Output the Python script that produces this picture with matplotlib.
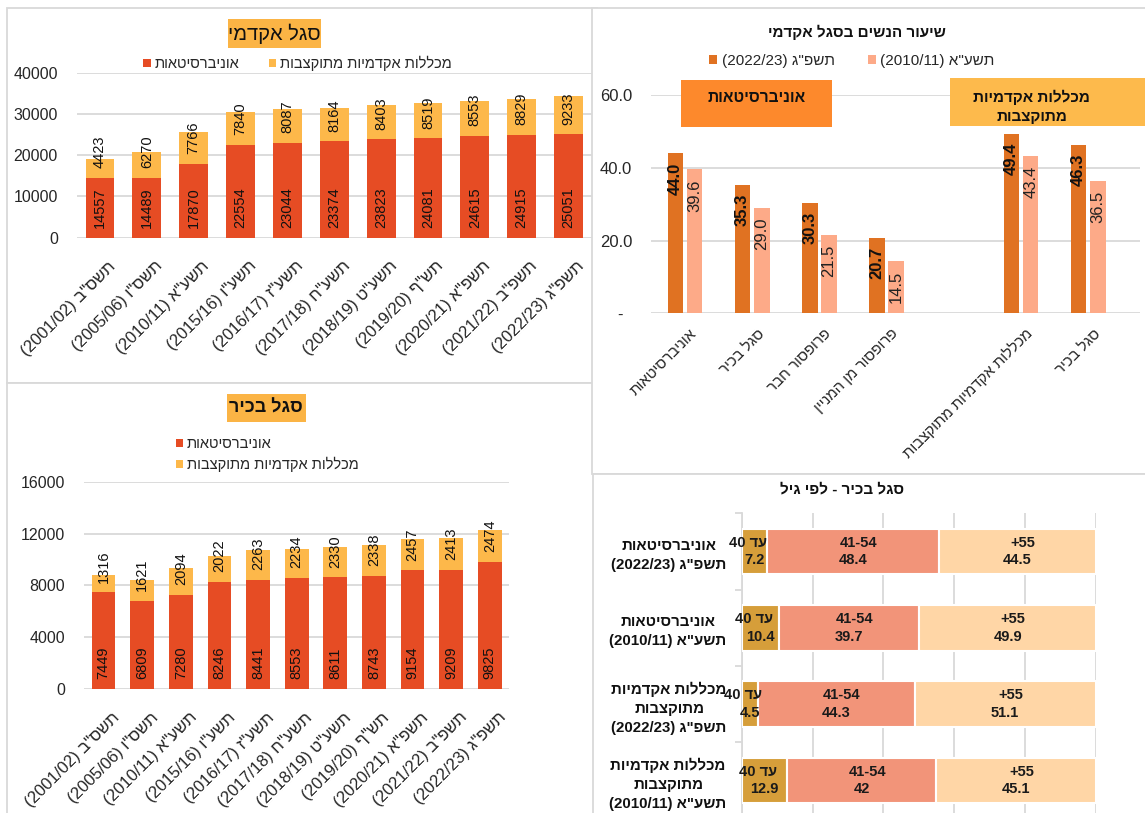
import re
import numpy as np
import matplotlib
matplotlib.use('Agg')
import matplotlib.pyplot as plt
from matplotlib.patches import Rectangle

# ---------------- data ----------------
years = ['תשס"ב (2001/02)', 'תשס"ו (2005/06)', 'תשע"א (2010/11)', 'תשע"ו (2015/16)',
         'תשע"ז (2016/17)', 'תשע"ח (2017/18)', 'תשע"ט (2018/19)', 'תש"ף (2019/20)',
         'תשפ"א (2020/21)', 'תשפ"ב (2021/22)', 'תשפ"ג (2022/23)']
series_names = ['אוניברסיטאות', 'מכללות אקדמיות מתוקצבות']

acad_univ = [14557, 14489, 17870, 22554, 23044, 23374, 23823, 24081, 24615, 24915, 25051]
acad_coll = [4423, 6270, 7766, 7840, 8087, 8164, 8403, 8519, 8553, 8829, 9233]

senior_univ = [7449, 6809, 7280, 8246, 8441, 8553, 8611, 8743, 9154, 9209, 9825]
senior_coll = [1316, 1621, 2094, 2022, 2263, 2234, 2330, 2338, 2457, 2413, 2474]

women_cats = ['אוניברסיטאות', 'סגל בכיר', 'פרופסור חבר', 'פרופסור מן המניין', '',
              'מכללות אקדמיות מתוקצבות', 'סגל בכיר']
women_series = ['תשפ"ג (2022/23)', 'תשע"א (2010/11)']
women_2023 = [44.0, 35.3, 30.3, 20.7, None, 49.4, 46.3]
women_2011 = [39.6, 29.0, 21.5, 14.5, None, 43.4, 36.5]

age_rows = ['אוניברסיטאות\nתשפ"ג (2022/23)', 'אוניברסיטאות\nתשע"א (2010/11)',
            'מכללות אקדמיות\nמתוקצבות\nתשפ"ג (2022/23)', 'מכללות אקדמיות\nמתוקצבות\nתשע"א (2010/11)']
age_groups = ['עד 40', '41-54', '55+']
age_upto40 = [7.2, 10.4, 4.5, 12.9]
age_41_54 = [48.4, 39.7, 44.3, 42]
age_55plus = [44.5, 49.9, 51.1, 45.1]

# ---------------- helpers ----------------
_LTR = re.compile(r'[0-9A-Za-z]+(?:[./:,\-][0-9A-Za-z]+)*')
_MIRROR = {'(': ')', ')': '(', '[': ']', ']': '['}


def vis(s):
    """Very small visual reordering for RTL (Hebrew) strings."""
    out = []
    for line in s.split('\n'):
        units, pos = [], 0
        for m in _LTR.finditer(line):
            units.extend(_MIRROR.get(c, c) for c in line[pos:m.start()])
            units.append(m.group())
            pos = m.end()
        units.extend(_MIRROR.get(c, c) for c in line[pos:])
        out.append(''.join(reversed(units)))
    return '\n'.join(out)


W, H = 1145, 813
plt.rcParams['font.family'] = ['Liberation Sans', 'DejaVu Sans']
TXT = '#262626'
GRID = '#D9D9D9'
RED = '#E64C24'
YEL = '#FDB84A'
TITLE_BG = '#FBB445'
DARK = '#E07222'
LIGHT = '#FDAA88'
BOX1 = '#FD892C'
BOX2 = '#FDBA4C'
AGE_COLS = ['#D69E3A', '#F29479', '#FFD6A6']

fig = plt.figure(figsize=(W / 100, H / 100), dpi=100)


def fx(x):
    return x / W


def fy(y):
    return 1 - y / H


def rect(x0, y0, x1, y1):
    return [fx(x0), fy(y1), (x1 - x0) / W, (y1 - y0) / H]


def frame(x0, y0, x1, y1, fc='white', ec=GRID, lw=1.3, z=-5):
    fig.add_artist(Rectangle((fx(x0), fy(y1)), (x1 - x0) / W, (y1 - y0) / H,
                             transform=fig.transFigure, facecolor=fc, edgecolor=ec,
                             lw=lw, zorder=z))


def cat_labels(ax, labels, size, dx, dy):
    """Rotated category labels anchored at the end of the baseline under each tick."""
    ax.set_xticks(np.arange(len(labels)))
    ax.set_xticklabels([])
    for i, lab in enumerate(labels):
        if not lab:
            continue
        ax.annotate(vis(lab), xy=(i, 0), xycoords=('data', 'axes fraction'),
                    xytext=(dx, dy), textcoords='offset points', rotation=45,
                    ha='right', va='baseline', rotation_mode='anchor',
                    fontsize=size, color=TXT, annotation_clip=False)


# panel frames
frame(7, 8, 597, 383)
frame(7, 383, 597, 840)
frame(592, 8, 1170, 474)
frame(593, 474, 1170, 840)


def stacked_panel(axrect, xlim_right_px, ymax, yticks, vals_a, vals_b, title, title_box, title_bold,
                  title_size, legend_kw, ypad):
    x0px, y0px, x1px, y1px = axrect
    ax = fig.add_axes(rect(*axrect))
    ax.set_facecolor('none')
    n = len(years)
    x = np.arange(n)
    slot = (x1px - x0px) / n
    b1 = ax.bar(x, vals_a, width=0.615, color=RED, label=vis(series_names[0]), zorder=3)
    b2 = ax.bar(x, vals_b, bottom=vals_a, width=0.615, color=YEL, label=vis(series_names[1]), zorder=3)
    ax.set_xlim(-0.5, -0.5 + (xlim_right_px - x0px) / slot)
    ax.set_ylim(0, ymax)
    ax.set_yticks(yticks)
    ax.grid(axis='y', color=GRID, lw=1.3, zorder=0)
    ax.set_axisbelow(True)
    for s in ax.spines.values():
        s.set_visible(False)
    ax.tick_params(axis='y', length=0, pad=ypad, labelsize=11.5, labelcolor=TXT)
    ax.tick_params(axis='x', length=0)
    cat_labels(ax, years, 12, 12, -21)
    for i in range(n):
        ax.annotate(str(vals_a[i]), xy=(i, 0), xytext=(0, 7), textcoords='offset points',
                    rotation=90, ha='center', va='bottom', fontsize=10.5, color='#111111', zorder=5)
        ax.annotate(str(vals_b[i]), xy=(i, vals_a[i]), xytext=(0, 7), textcoords='offset points',
                    rotation=90, ha='center', va='bottom', fontsize=10.5, color='#111111', zorder=5)
    tx0, ty0, tx1, ty1 = title_box
    frame(tx0, ty0, tx1, ty1, fc=TITLE_BG, ec='none', lw=0, z=2)
    fig.text(fx((tx0 + tx1) / 2), fy((ty0 + ty1) / 2), vis(title), ha='center', va='center',
             fontsize=title_size, fontweight='bold' if title_bold else 'normal',
             color='#111111', zorder=3)
    ax.legend(handles=[b1, b2], bbox_transform=fig.transFigure, frameon=False, fontsize=10.5,
              handlelength=0.5, handleheight=0.5, handletextpad=0.25, borderpad=0,
              borderaxespad=0, labelcolor=TXT, **legend_kw)
    return ax


# ---- top-left: academic staff ----
stacked_panel((76.5, 72.7, 592, 237.7), 592, 40000, [0, 10000, 20000, 30000, 40000],
              acad_univ, acad_coll, 'סגל אקדמי', (227.7, 19, 321, 48.3), False, 14.5,
              dict(loc='center', bbox_to_anchor=(fx(297.5), fy(63.5)), ncol=2, columnspacing=2.05),
              13.5)

# ---- bottom-left: senior staff ----
stacked_panel((84.2, 481.7, 509.1, 689), 509.1, 16000, [0, 4000, 8000, 12000, 16000],
              senior_univ, senior_coll, 'סגל בכיר', (226.7, 394, 306, 422.3), True, 13,
              dict(loc='upper left', bbox_to_anchor=(fx(176), fy(437)), ncol=1, labelspacing=0.4),
              13.8)

# ---- top-right: share of women ----
ax3 = fig.add_axes(rect(651.4, 95.3, 1140, 313.3))
ax3.set_facecolor('none')
slot3 = 67.2
xc = np.arange(len(women_cats))
idx = [i for i, v in enumerate(women_2023) if v is not None]
bw, off = 0.232, 0.144
bd = ax3.bar(xc[idx] - off, [women_2023[i] for i in idx], width=bw, color=DARK,
             label=vis(women_series[0]), zorder=3)
bl = ax3.bar(xc[idx] + off, [women_2011[i] for i in idx], width=bw, color=LIGHT,
             label=vis(women_series[1]), zorder=3)
for i in idx:
    ax3.annotate(f'{women_2023[i]:.1f}', xy=(i - off, women_2023[i]), xytext=(0, -6.5),
                 textcoords='offset points', rotation=90, ha='center', va='top',
                 fontsize=12, fontweight='bold', color='#111111', zorder=5)
    ax3.annotate(f'{women_2011[i]:.1f}', xy=(i + off, women_2011[i]), xytext=(0, -7),
                 textcoords='offset points', rotation=90, ha='center', va='top',
                 fontsize=12, color='#222222', zorder=5)
ax3.set_xlim(-0.5, -0.5 + (1140 - 651.4) / slot3)
ax3.set_ylim(0, 60)
ax3.set_yticks([0, 20, 40, 60])
ax3.set_yticklabels(['-  ', '20.0', '40.0', '60.0'])
ax3.grid(axis='y', color=GRID, lw=1.3, zorder=0)
ax3.set_axisbelow(True)
for s in ax3.spines.values():
    s.set_visible(False)
ax3.tick_params(axis='y', length=0, pad=13.7, labelsize=12, labelcolor=TXT)
ax3.tick_params(axis='x', length=0)
cat_labels(ax3, women_cats, 10.8, 9, -15)
fig.text(fx(856.7), fy(32.3), vis('שיעור הנשים בסגל אקדמי'), ha='center', va='center',
         fontsize=11, fontweight='bold', color='#111111')
ax3.legend(handles=[bd, bl], loc='center', bbox_to_anchor=(fx(852), fy(61)),
           bbox_transform=fig.transFigure, ncol=2, frameon=False, fontsize=11,
           handlelength=0.5, handleheight=0.5, handletextpad=0.3, columnspacing=2.2,
           borderpad=0, borderaxespad=0, labelcolor=TXT)
# group boxes
frame(680.7, 80, 832.3, 127.3, fc=BOX1, ec='none', lw=0, z=2)
fig.text(fx(756.5), fy(97.7), vis('אוניברסיטאות'), ha='center', va='center', fontsize=11.2,
         fontweight='bold', color='#111111', zorder=3)
frame(950, 78, 1170, 125.7, fc=BOX2, ec='none', lw=0, z=2)
fig.text(fx(1031.7), fy(106.7), vis('מכללות אקדמיות\nמתוקצבות'), ha='center', va='center',
         fontsize=11, fontweight='bold', color='#111111', linespacing=1.4, zorder=3)

# ---- bottom-right: senior staff by age ----
ax4 = fig.add_axes(rect(741.7, 513.3, 1096, 818.6))
ax4.set_facecolor('none')
rows = np.arange(len(age_rows))
age_vals = [age_upto40, age_41_54, age_55plus]
left = np.zeros(len(age_rows))
name_dx = [-4.5, 4.0, 3.8]
for k, vals in enumerate(age_vals):
    vals = np.array(vals, dtype=float)
    ax4.barh(rows, vals, left=left, height=0.6, color=AGE_COLS[k], edgecolor='white',
             lw=1.5, zorder=3)
    for r in rows:
        cx = left[r] + vals[r] / 2
        ax4.annotate(vis(age_groups[k]), xy=(cx, r), xytext=(name_dx[k], 6.3),
                     textcoords='offset points', ha='center', va='center', fontsize=10.5,
                     fontweight='bold', color='#1a1a1a', zorder=5)
        ax4.annotate(f'{vals[r]:g}', xy=(cx, r), xytext=(0, -6.3),
                     textcoords='offset points', ha='center', va='center', fontsize=10.5,
                     fontweight='bold', color='#1a1a1a', zorder=5)
    left = left + vals
ax4.set_xlim(0, 100)
ax4.set_ylim(len(age_rows) - 0.5, -0.5)
ax4.set_xticks([0, 20, 40, 60, 80, 100])
ax4.set_xticklabels([])
ax4.grid(axis='x', color=GRID, lw=1.3, zorder=0)
ax4.set_axisbelow(True)
for name, s in ax4.spines.items():
    s.set_visible(name == 'left')
ax4.spines['left'].set_color(GRID)
ax4.spines['left'].set_linewidth(1.3)
ax4.set_yticks(rows)
ax4.set_yticklabels([vis(r) for r in age_rows])
ax4.set_yticks(np.arange(-0.5, len(age_rows) + 0.5, 1.0), minor=True)
ax4.tick_params(axis='x', length=0)
ax4.tick_params(axis='y', which='major', length=0, pad=10.8, labelsize=10.8, labelcolor='#111111')
ax4.tick_params(axis='y', which='minor', length=5, color=GRID, width=1.3, direction='out')
for t in ax4.get_yticklabels():
    t.set_multialignment('center')
    t.set_fontweight('bold')
    t.set_linespacing(1.45)
fig.text(fx(841.7), fy(489), vis('סגל בכיר - לפי גיל'), ha='center', va='center',
         fontsize=11, fontweight='bold', color='#111111')

fig.savefig('out.png', dpi=100)
